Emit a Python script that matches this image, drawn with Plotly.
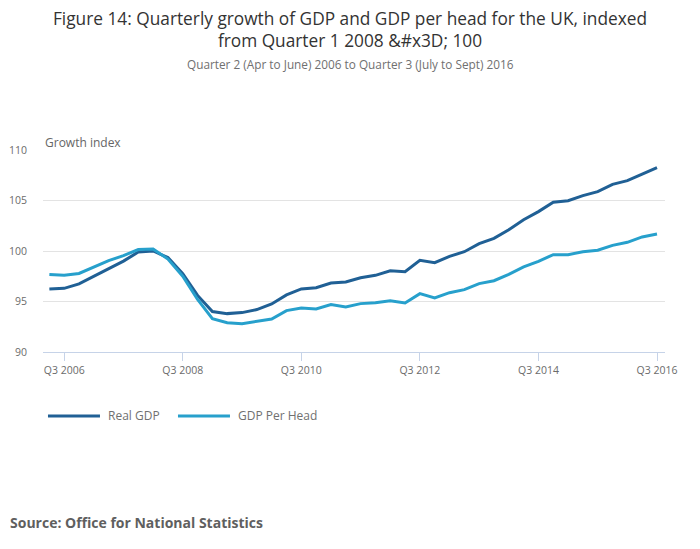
import plotly.graph_objects as go

quarters = []
for y in range(2006, 2017):
    for q in (1, 2, 3, 4):
        quarters.append(f"Q{q} {y}")
quarters = quarters[1:quarters.index("Q3 2016") + 1]  # Q2 2006 .. Q3 2016

real_gdp = [96.24, 96.3, 96.75, 97.48, 98.2, 99.0, 99.9, 100.0, 99.35, 97.75,
            95.6, 94.0, 93.8, 93.9, 94.2, 94.75, 95.65, 96.24, 96.37, 96.83,
            96.93, 97.35, 97.59, 98.05, 97.95, 99.08, 98.84, 99.47, 99.93, 100.73,
            101.25, 102.11, 103.1, 103.9, 104.82, 104.98, 105.48, 105.87, 106.6, 106.96,
            107.62, 108.25]
gdp_per_head = [97.68, 97.6, 97.78, 98.45, 99.05, 99.55, 100.15, 100.2, 99.2, 97.5,
                95.2, 93.3, 92.9, 92.8, 93.0, 93.27, 94.1, 94.36, 94.26, 94.69,
                94.46, 94.79, 94.88, 95.08, 94.85, 95.78, 95.35, 95.87, 96.17, 96.77,
                97.06, 97.69, 98.42, 98.98, 99.64, 99.64, 99.93, 100.07, 100.56, 100.86,
                101.39, 101.68]

tick_vals = ["Q3 2006", "Q3 2008", "Q3 2010", "Q3 2012", "Q3 2014", "Q3 2016"]
y_ticks = [90, 95, 100, 105, 110]

DARK = "#206095"
LIGHT = "#27a0cc"
FONT = "Open Sans"
CX = 0.4936

fig = go.Figure()
fig.add_trace(go.Scatter(x=quarters, y=real_gdp, mode="lines", name="Real GDP",
                         line=dict(color=DARK, width=3), showlegend=False))
fig.add_trace(go.Scatter(x=quarters, y=gdp_per_head, mode="lines", name="GDP Per Head",
                         line=dict(color=LIGHT, width=3), showlegend=False))

fig.update_layout(
    width=692, height=541,
    margin=dict(l=35, r=35, t=142, b=197, autoexpand=False),
    paper_bgcolor="white", plot_bgcolor="white",
    font=dict(family=FONT, color="#666666", size=11),
    title=dict(text="Figure 14: Quarterly growth of GDP and GDP per head for the UK, indexed<br>from Quarter 1 2008 &amp;#x3D; 100",
               x=0.4942, xanchor="center", xref="container",
               y=0.9686, yanchor="middle", yref="container",
               font=dict(family=FONT, size=17.3, color="#333333")),
    xaxis=dict(type="category", range=[-0.43, 41.54], tickmode="array",
               tickvals=tick_vals, ticktext=tick_vals, automargin=False,
               ticks="outside", ticklen=8, tickcolor="#c6d3e8", tickwidth=1,
               showline=True, linecolor="#c6d3e8", linewidth=1,
               showgrid=False, zeroline=False,
               tickfont=dict(size=10.5, color="#6b6b6b")),
    yaxis=dict(range=[90, 110], tickvals=y_ticks, ticks="outside", ticklen=13,
               automargin=False,
               tickcolor="rgba(0,0,0,0)", showgrid=True, gridcolor="#e3e3e3",
               gridwidth=1, zeroline=False, showline=False,
               tickfont=dict(size=10.5, color="#6b6b6b")),
)

annotations = [
    dict(text="Quarter 2 (Apr to June) 2006 to Quarter 3 (July to Sept) 2016",
         xref="paper", yref="paper", x=CX, y=1.4257, xanchor="center", yanchor="middle",
         showarrow=False, font=dict(family=FONT, size=11.8, color="#707070")),
    dict(text="Growth index", xref="paper", yref="paper", x=0, y=1, xanchor="left",
         yanchor="bottom", yshift=-3, showarrow=False,
         font=dict(family=FONT, size=12, color="#666666")),
    dict(text="Real GDP", xref="paper", yref="paper", x=0.1013, y=-0.3168,
         xanchor="left", yanchor="middle", showarrow=False,
         font=dict(family=FONT, size=12, color="#707070")),
    dict(text="GDP Per Head", xref="paper", yref="paper", x=0.3103, y=-0.3168,
         xanchor="left", yanchor="middle", showarrow=False,
         font=dict(family=FONT, size=12, color="#707070")),
    dict(text="<b>Source: Office for National Statistics</b>", xref="paper", yref="paper",
         x=-0.057, y=-0.842, xanchor="left", yanchor="middle", showarrow=False,
         font=dict(family=FONT, size=14, color="#5f5f5f")),
]
fig.update_layout(annotations=annotations)

fig.update_layout(shapes=[
    dict(type="line", xref="paper", yref="paper", x0=0.008, x1=0.0916, y0=-0.3168, y1=-0.3168,
         line=dict(color=DARK, width=3)),
    dict(type="line", xref="paper", yref="paper", x0=0.217, x1=0.3006, y0=-0.3168, y1=-0.3168,
         line=dict(color=LIGHT, width=3)),
])

fig.write_html("out.html")
